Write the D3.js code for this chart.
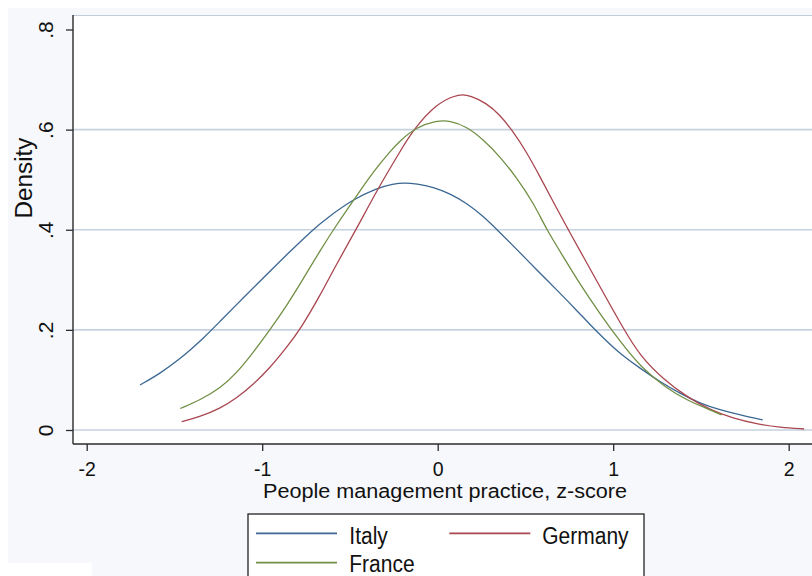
<!DOCTYPE html>
<html>
<head>
<meta charset="utf-8">
<script src="https://cdn.jsdelivr.net/npm/d3@7"></script>
<style>
  html, body { margin: 0; padding: 0; background: #ffffff; }
  svg { display: block; }
  text { font-family: "Liberation Sans", Arial, sans-serif; fill: #111; }
</style>
</head>
<body>
<svg id="chart" width="812" height="576"></svg>
<script>
// Kernel density estimates of the people-management z-score, by country
const italyX = [-1.696, -1.581, -1.467, -1.41, -1.336, -1.24, -1.145, -1.022, -0.956, -0.861, -0.709, -0.633, -0.481, -0.348, -0.253, -0.19, -0.12, -0.025, 0.07, 0.165, 0.26, 0.336, 0.45, 0.564, 0.678, 0.792, 0.896, 0.982, 1.039, 1.153, 1.267, 1.381, 1.495, 1.609, 1.723, 1.852];
const italyDensity = [0.090, 0.113, 0.143, 0.160, 0.183, 0.217, 0.251, 0.294, 0.317, 0.350, 0.401, 0.423, 0.461, 0.483, 0.492, 0.494, 0.492, 0.485, 0.472, 0.453, 0.427, 0.401, 0.361, 0.320, 0.280, 0.239, 0.200, 0.171, 0.153, 0.123, 0.0965, 0.073, 0.053, 0.040, 0.030, 0.020];

const germanyX = [-1.459, -1.354, -1.24, -1.145, -1.051, -0.956, -0.861, -0.785, -0.671, -0.576, -0.465, -0.348, -0.215, -0.139, -0.006, 0.099, 0.14, 0.184, 0.279, 0.355, 0.422, 0.507, 0.583, 0.659, 0.744, 0.83, 0.925, 1.062, 1.153, 1.29, 1.419, 1.552, 1.684, 1.818, 1.951, 2.088];
const germanyDensity = [0.0166, 0.0266, 0.043, 0.064, 0.091, 0.124, 0.165, 0.200, 0.268, 0.332, 0.400, 0.478, 0.556, 0.600, 0.652, 0.668, 0.670, 0.668, 0.653, 0.629, 0.600, 0.555, 0.506, 0.455, 0.400, 0.346, 0.286, 0.200, 0.148, 0.100, 0.0665, 0.040, 0.0233, 0.012, 0.0053, 0.002];

const franceX = [-1.467, -1.354, -1.24, -1.145, -1.051, -0.956, -0.861, -0.766, -0.671, -0.576, -0.462, -0.367, -0.272, -0.215, -0.12, -0.006, 0.07, 0.165, 0.26, 0.355, 0.45, 0.545, 0.621, 0.716, 0.811, 0.925, 1.039, 1.153, 1.305, 1.419, 1.533, 1.618];
const franceDensity = [0.043, 0.060, 0.083, 0.114, 0.155, 0.200, 0.248, 0.302, 0.358, 0.410, 0.468, 0.516, 0.556, 0.578, 0.605, 0.618, 0.618, 0.606, 0.580, 0.546, 0.504, 0.454, 0.400, 0.346, 0.291, 0.232, 0.177, 0.127, 0.083, 0.060, 0.043, 0.030];

const countries = ["Italy", "Germany", "France"];
const countryColors = ["#3b6792", "#a9464f", "#718f45"];

const xTicks = [-2, -1, 0, 1, 2];
const yTicks = [0, 0.2, 0.4, 0.6, 0.8];
const yTickLabels = ["0", ".2", ".4", ".6", ".8"];

const xTitle = "People management practice, z-score";
const yTitle = "Density";

const series = [
  { name: countries[0], color: countryColors[0], xs: italyX, ys: italyDensity },
  { name: countries[1], color: countryColors[1], xs: germanyX, ys: germanyDensity },
  { name: countries[2], color: countryColors[2], xs: franceX, ys: franceDensity }
];

const svg = d3.select("#chart");
const W = 812, H = 576;

// plot region geometry
const plotLeft = 73, plotTop = 15, plotBottom = 444, plotRight = 840;

const x = d3.scaleLinear().domain([-2, 2]).range([86.7, 788.7]);
const y = d3.scaleLinear().domain([0, 0.8]).range([430, 29.5]);

// graph region background
svg.append("rect").attr("x", 0).attr("y", 0).attr("width", W).attr("height", H).attr("fill", "#ffffff");
svg.append("rect").attr("x", 8).attr("y", 8).attr("width", W - 8).attr("height", H - 8).attr("fill", "#f6f8fb");
svg.append("rect").attr("x", 0).attr("y", 563).attr("width", 92).attr("height", 13).attr("fill", "#ffffff");

// plot region
svg.append("rect")
  .attr("x", plotLeft).attr("y", plotTop)
  .attr("width", plotRight - plotLeft).attr("height", plotBottom - plotTop)
  .attr("fill", "#ffffff");
svg.append("line")
  .attr("x1", plotLeft).attr("x2", plotRight)
  .attr("y1", plotTop + 0.5).attr("y2", plotTop + 0.5)
  .attr("stroke", "#c3ccd8").attr("stroke-width", 1.2);

// horizontal grid lines
svg.append("g").selectAll("line")
  .data(yTicks.filter(d => d < 0.8))
  .join("line")
  .attr("x1", plotLeft).attr("x2", plotRight)
  .attr("y1", d => y(d)).attr("y2", d => y(d))
  .attr("stroke", "#c6d2df").attr("stroke-width", 1.6);

// density curves
svg.append("clipPath").attr("id", "plotclip")
  .append("rect").attr("x", plotLeft).attr("y", plotTop)
  .attr("width", plotRight - plotLeft).attr("height", plotBottom - plotTop);

const line = d3.line()
  .x(d => x(d[0]))
  .y(d => y(d[1]))
  .curve(d3.curveBasis);

svg.append("g").attr("clip-path", "url(#plotclip)")
  .selectAll("path")
  .data(series)
  .join("path")
  .attr("d", s => line(s.xs.map((v, i) => [v, s.ys[i]])))
  .attr("fill", "none")
  .attr("stroke", s => s.color)
  .attr("stroke-width", 1.3)
  .attr("stroke-linejoin", "round");

// y axis
const yAxis = d3.axisLeft(y)
  .tickValues(yTicks)
  .tickSize(7)
  .tickFormat((d, i) => yTickLabels[i]);
const gy = svg.append("g").attr("transform", `translate(${plotLeft},0)`).call(yAxis);
gy.select(".domain").remove();
gy.selectAll(".tick line").attr("stroke", "#2b2b2b").attr("stroke-width", 1.3);
gy.selectAll(".tick text").remove();
gy.selectAll(".tick").append("text")
  .attr("transform", "translate(-20,0) rotate(-90)")
  .attr("text-anchor", "middle")
  .attr("font-size", 21)
  .style("font-family", '"Liberation Sans", Arial, sans-serif')
  .attr("fill", "#111")
  .text((d, i) => yTickLabels[i]);
svg.append("line")
  .attr("x1", plotLeft).attr("x2", plotLeft)
  .attr("y1", plotTop).attr("y2", plotBottom)
  .attr("stroke", "#2b2b2b").attr("stroke-width", 1.4);

// x axis
const xAxis = d3.axisBottom(x).tickValues(xTicks).tickSize(7).tickFormat(d3.format("d"));
const gx = svg.append("g").attr("transform", `translate(0,${plotBottom})`).call(xAxis);
gx.select(".domain").remove();
gx.selectAll(".tick line").attr("stroke", "#2b2b2b").attr("stroke-width", 1.3);
gx.selectAll(".tick text")
  .attr("y", 31.5).attr("dy", null)
  .attr("font-size", 19.5)
  .style("font-family", '"Liberation Sans", Arial, sans-serif')
  .attr("fill", "#111")
  .text(d => d < 0 ? "-" + Math.abs(d) : String(d));
svg.append("line")
  .attr("x1", plotLeft).attr("x2", plotRight)
  .attr("y1", plotBottom).attr("y2", plotBottom)
  .attr("stroke", "#2b2b2b").attr("stroke-width", 1.4);

// axis titles
svg.append("text")
  .attr("x", 445).attr("y", 498)
  .attr("text-anchor", "middle")
  .attr("font-size", 20)
  .attr("textLength", 364).attr("lengthAdjust", "spacingAndGlyphs")
  .text(xTitle);

svg.append("text")
  .attr("transform", "translate(31.5,178) rotate(-90)")
  .attr("text-anchor", "middle")
  .attr("font-size", 23)
  .attr("textLength", 81).attr("lengthAdjust", "spacingAndGlyphs")
  .text(yTitle);

// legend
const legend = svg.append("g");
legend.append("rect")
  .attr("x", 248).attr("y", 514)
  .attr("width", 396).attr("height", 100)
  .attr("fill", "#ffffff").attr("stroke", "#222").attr("stroke-width", 1.3);

const legendPos = [
  { lx: 256, ly: 533.3, tx: 349.3, ty: 544.3 },
  { lx: 449.3, ly: 533.3, tx: 542.3, ty: 544.3 },
  { lx: 256, ly: 562.7, tx: 349.3, ty: 572 }
];
series.forEach((s, i) => {
  const p = legendPos[i];
  legend.append("line")
    .attr("x1", p.lx).attr("x2", p.lx + 81)
    .attr("y1", p.ly).attr("y2", p.ly)
    .attr("stroke", s.color).attr("stroke-width", 1.8);
  legend.append("text")
    .attr("transform", `translate(${p.tx},${p.ty}) scale(1,1.15)`)
    .attr("font-size", 21)
    .text(s.name);
});
</script>
</body>
</html>
